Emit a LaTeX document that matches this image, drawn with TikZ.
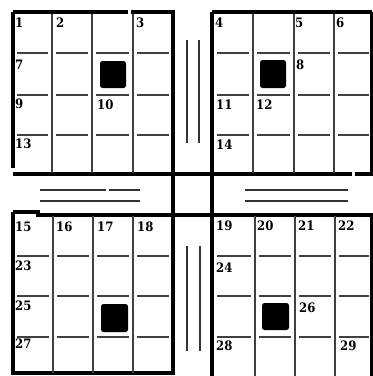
\documentclass[tikz,border=0pt]{standalone}
\usepackage{fontspec}
\newfontfamily\numfont{DejaVu Serif Condensed}
\begin{document}
\begin{tikzpicture}[x=1pt,y=-1pt,
  border/.style={line width=3.6pt,black},
  inner/.style={line width=1.4pt,black!75},
  dbl/.style={line width=1.3pt,black!80},
  blk/.style={fill=black,rounded corners=2.5pt},
  num/.style={anchor=north west,inner sep=0pt,font=\numfont\fontsize{13}{13}\selectfont\bfseries}]
\useasboundingbox[fill=white] (0,0) rectangle (373,376);
% ---------- thick borders ----------
% top-left block
\draw[border] (13,12) -- (128,12);
\draw[border] (131,12) -- (175,12);
\draw[border] (13,12) -- (13,168);
% top-right block
\draw[border] (212,12) -- (372,12);
\draw[border] (372,12) -- (372,175);
% long verticals
\draw[border] (173,12) -- (173,375);
\draw[border] (212,12) -- (212,376);
% middle horizontal lines
\draw[border] (13,174) -- (352,174);
\draw[border] (355,174) -- (373,174);
\draw[border] (13,212) -- (38,212) -- (38,215) -- (373,215);
% bottom-left block
\draw[border] (13,212) -- (13,373) -- (175,373);
% bottom-right block
\draw[border] (372,215) -- (372,376);
% ---------- inner grid lines ----------
% verticals
\foreach \x in {52,92,133} \draw[inner] (\x,14) -- (\x,173);
\foreach \x in {253,294,334} \draw[inner] (\x,14) -- (\x,173);
\foreach \x in {53,93,133} \draw[inner] (\x,216) -- (\x,373);
\foreach \x in {255,295,335} \draw[inner] (\x,216) -- (\x,376);
% horizontal segments
\foreach \y in {53,95,135}{
  \draw[inner] (17,\y) -- (48,\y);
  \draw[inner] (56,\y) -- (88,\y);
  \draw[inner] (96,\y) -- (129,\y);
  \draw[inner] (137,\y) -- (169,\y);
  \draw[inner] (217,\y) -- (249,\y);
  \draw[inner] (257,\y) -- (290,\y);
  \draw[inner] (298,\y) -- (330,\y);
  \draw[inner] (338,\y) -- (369,\y);
}
\foreach \y in {256,296,337}{
  \draw[inner] (17,\y) -- (49,\y);
  \draw[inner] (57,\y) -- (89,\y);
  \draw[inner] (97,\y) -- (129,\y);
  \draw[inner] (137,\y) -- (169,\y);
  \draw[inner] (217,\y) -- (251,\y);
  \draw[inner] (259,\y) -- (291,\y);
  \draw[inner] (299,\y) -- (331,\y);
  \draw[inner] (339,\y) -- (369,\y);
}
% ---------- double lines ----------
\draw[dbl] (187,40) -- (187,143);
\draw[dbl] (199,40) -- (199,143);
\draw[dbl] (187,246) -- (187,351);
\draw[dbl] (200,246) -- (200,351);
\draw[dbl] (40,190) -- (106,190);
\draw[dbl] (109,190) -- (140,190);
\draw[dbl] (40,201) -- (140,201);
\draw[dbl] (245,190) -- (348,190);
\draw[dbl] (245,201) -- (348,201);
% ---------- black squares ----------
\fill[blk] (100,61) rectangle (126,88);
\fill[blk] (260,60) rectangle (286,88);
\fill[blk] (101,304) rectangle (128,332);
\fill[blk] (262,303) rectangle (289,330);
% ---------- numbers ----------
\node[num] (n1) at (15,18) {1};
\node[num] (n2) at (56,18) {2};
\node[num] (n3) at (136,18) {3};
\node[num] (n4) at (215,18) {4};
\node[num] (n5) at (295,18) {5};
\node[num] (n6) at (336,18) {6};
\node[num] (n7) at (15,60) {7};
\node[num] (n8) at (296,60) {8};
\node[num] (n9) at (15,99) {9};
\node[num] (n10) at (97,100) {10};
\node[num] (n11) at (216,100) {11};
\node[num] (n12) at (256,100) {12};
\node[num] (n13) at (15,139) {13};
\node[num] (n14) at (216,140) {14};
\node[num] (n15) at (15,222) {15};
\node[num] (n16) at (56,222) {16};
\node[num] (n17) at (97,222) {17};
\node[num] (n18) at (137,222) {18};
\node[num] (n19) at (216,221) {19};
\node[num] (n20) at (257,221) {20};
\node[num] (n21) at (298,221) {21};
\node[num] (n22) at (338,221) {22};
\node[num] (n23) at (15,261) {23};
\node[num] (n24) at (216,263) {24};
\node[num] (n25) at (15,301) {25};
\node[num] (n26) at (299,303) {26};
\node[num] (n27) at (15,339) {27};
\node[num] (n28) at (216,341) {28};
\node[num] (n29) at (340,341) {29};
\end{tikzpicture}
\end{document}
